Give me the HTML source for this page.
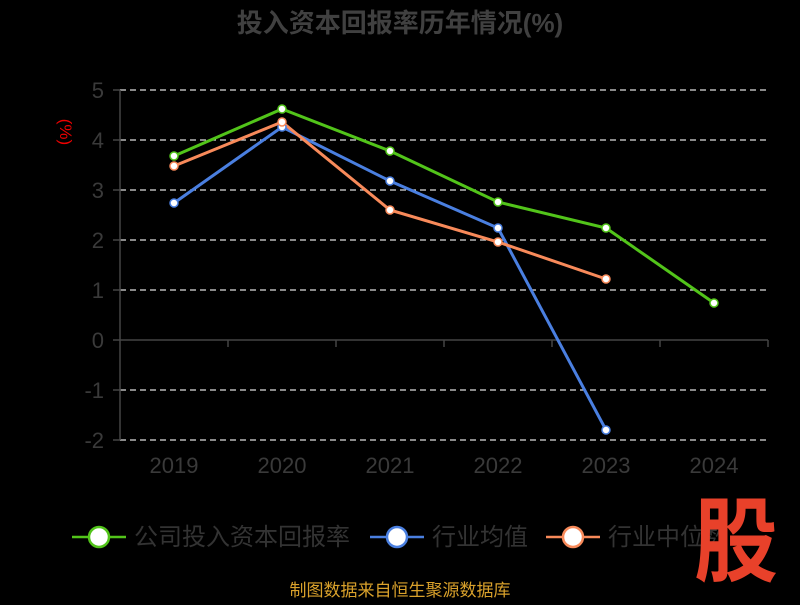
<!DOCTYPE html><html><head><meta charset="utf-8"><style>body{margin:0;background:#000;width:800px;height:600px;overflow:hidden}text{font-family:"Liberation Sans","Noto Sans CJK SC",sans-serif}</style></head><body>
<svg width="800" height="600" xmlns="http://www.w3.org/2000/svg">
<text x="400" y="32" text-anchor="middle" font-size="26" font-weight="bold" fill="#404040">投入资本回报率历年情况(%)</text>
<text x="66" y="126" font-size="17" fill="#e00" transform="rotate(90 60 126)" text-anchor="middle">(%)</text>
<g stroke="#ddd" stroke-width="1.2" stroke-dasharray="6,4">
<line x1="120" y1="90" x2="768" y2="90"/><line x1="120" y1="140" x2="768" y2="140"/><line x1="120" y1="190" x2="768" y2="190"/><line x1="120" y1="240" x2="768" y2="240"/><line x1="120" y1="290" x2="768" y2="290"/><line x1="120" y1="390" x2="768" y2="390"/><line x1="120" y1="440" x2="768" y2="440"/></g>
<g stroke="#444" stroke-width="1.5"><line x1="120" y1="90" x2="120" y2="440"/><line x1="120" y1="340" x2="768" y2="340"/>
<line x1="228" y1="340" x2="228" y2="347"/><line x1="336" y1="340" x2="336" y2="347"/><line x1="444" y1="340" x2="444" y2="347"/><line x1="552" y1="340" x2="552" y2="347"/><line x1="660" y1="340" x2="660" y2="347"/><line x1="768" y1="340" x2="768" y2="347"/>
<line x1="113" y1="90" x2="120" y2="90"/><line x1="113" y1="140" x2="120" y2="140"/><line x1="113" y1="190" x2="120" y2="190"/><line x1="113" y1="240" x2="120" y2="240"/><line x1="113" y1="290" x2="120" y2="290"/><line x1="113" y1="340" x2="120" y2="340"/><line x1="113" y1="390" x2="120" y2="390"/><line x1="113" y1="440" x2="120" y2="440"/></g>
<g font-size="22" fill="#3a3a3a" text-anchor="end"><text x="104" y="98">5</text><text x="104" y="148">4</text><text x="104" y="198">3</text><text x="104" y="248">2</text><text x="104" y="298">1</text><text x="104" y="348">0</text><text x="104" y="398">-1</text><text x="104" y="448">-2</text></g>
<g font-size="22" fill="#3a3a3a" text-anchor="middle"><text x="174" y="473">2019</text><text x="282" y="473">2020</text><text x="390" y="473">2021</text><text x="498" y="473">2022</text><text x="606" y="473">2023</text><text x="714" y="473">2024</text></g>
<polyline fill="none" stroke="#52c41a" stroke-width="3" points="174,156 282,109 390,151 498,202 606,228 714,303"/>
<polyline fill="none" stroke="#4a7fe0" stroke-width="3" points="174,203 282,127 390,181 498,228 606,430"/>
<polyline fill="none" stroke="#f88a5a" stroke-width="3" points="174,166 282,122 390,210 498,242 606,279"/>
<g fill="#fff" stroke-width="1.5">
<g stroke="#52c41a"><circle cx="174" cy="156" r="4"/><circle cx="282" cy="109" r="4"/><circle cx="390" cy="151" r="4"/><circle cx="498" cy="202" r="4"/><circle cx="606" cy="228" r="4"/><circle cx="714" cy="303" r="4"/></g>
<g stroke="#4a7fe0"><circle cx="174" cy="203" r="4"/><circle cx="282" cy="127" r="4"/><circle cx="390" cy="181" r="4"/><circle cx="498" cy="228" r="4"/><circle cx="606" cy="430" r="4"/></g>
<g stroke="#f88a5a"><circle cx="174" cy="166" r="4"/><circle cx="282" cy="122" r="4"/><circle cx="390" cy="210" r="4"/><circle cx="498" cy="242" r="4"/><circle cx="606" cy="279" r="4"/></g></g>
<g stroke-width="2.5"><line x1="72" y1="537" x2="126" y2="537" stroke="#52c41a"/><circle cx="99" cy="537" r="10" fill="#fff" stroke="#52c41a"/>
<line x1="370" y1="537" x2="424" y2="537" stroke="#4a7fe0"/><circle cx="397" cy="537" r="10" fill="#fff" stroke="#4a7fe0"/>
<line x1="546" y1="537" x2="600" y2="537" stroke="#f88a5a"/><circle cx="573" cy="537" r="10" fill="#fff" stroke="#f88a5a"/></g>
<g font-size="24" fill="#333"><text x="134" y="545">公司投入资本回报率</text><text x="432" y="545">行业均值</text><text x="608" y="545">行业中位数</text></g>
<text x="736" y="574" font-size="84" font-weight="bold" fill="#e8412a" text-anchor="middle" transform="scale(1,1.1) translate(0,-52)">股</text>
<text x="400" y="596" font-size="17" fill="#d9a12b" text-anchor="middle">制图数据来自恒生聚源数据库</text>
</svg></body></html>
